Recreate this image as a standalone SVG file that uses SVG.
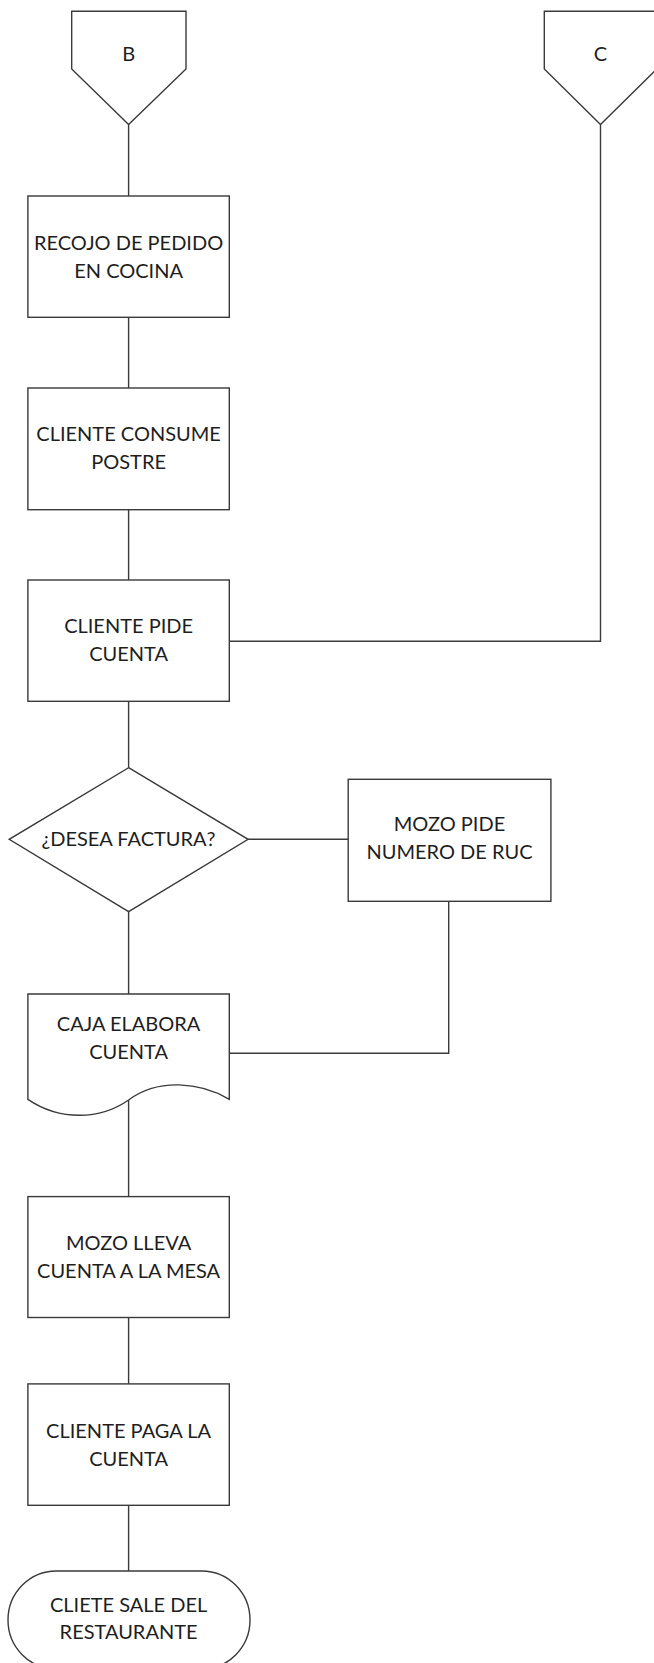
<svg xmlns="http://www.w3.org/2000/svg" width="654" height="1663" viewBox="0 0 654 1663">
  <style>
    .shape { fill: #ffffff; stroke: #3a3a3a; stroke-width: 1.4; }
    .link { fill: none; stroke: #3a3a3a; stroke-width: 1.4; }
    .label { font-family: Lato, "Liberation Sans", sans-serif; font-size: 20px; fill: #1e1e1e; text-anchor: middle; }
  </style>
  <rect x="0" y="0" width="654" height="1663" fill="#ffffff"/>

  <!-- connectors -->
  <g id="connectors">
    <path class="link" d="M128.6,124.5 V196"/>
    <path class="link" d="M128.6,317.3 V388"/>
    <path class="link" d="M128.6,509.7 V580"/>
    <path class="link" d="M229.3,641.3 H600.5 V124.5"/>
    <path class="link" d="M128.6,701.3 V767.7"/>
    <path class="link" d="M248.1,839.3 H348.2"/>
    <path class="link" d="M128.6,911.7 V994"/>
    <path class="link" d="M448.7,901.3 V1053.3 H229.3"/>
    <path class="link" d="M128.6,1100 V1196.6"/>
    <path class="link" d="M128.6,1317.5 V1383.9"/>
    <path class="link" d="M128.6,1505.3 V1571"/>
  </g>

  <!-- off-page connector B -->
  <g id="connector-b">
    <path class="shape" d="M71.7,11.3 H186 V69 L128.6,124.5 L71.7,69 Z"/>
    <text class="label" x="128.6" y="60.5">B</text>
  </g>

  <!-- off-page connector C -->
  <g id="connector-c">
    <path class="shape" d="M544.3,11.3 H656.7 V69 L600.5,124.5 L544.3,69 Z"/>
    <text class="label" x="600.5" y="60.5">C</text>
  </g>

  <g id="recojo-pedido">
    <rect class="shape" x="27.9" y="196" width="201.4" height="121.3"/>
    <text class="label" x="128.6" y="250">RECOJO DE PEDIDO</text>
    <text class="label" x="128.6" y="277.7">EN COCINA</text>
  </g>

  <g id="consume-postre">
    <rect class="shape" x="27.9" y="388" width="201.4" height="121.7"/>
    <text class="label" x="128.6" y="441">CLIENTE CONSUME</text>
    <text class="label" x="128.6" y="469.3">POSTRE</text>
  </g>

  <g id="pide-cuenta">
    <rect class="shape" x="27.9" y="580" width="201.4" height="121.3"/>
    <text class="label" x="128.6" y="633">CLIENTE PIDE</text>
    <text class="label" x="128.6" y="661.3">CUENTA</text>
  </g>

  <g id="desea-factura">
    <path class="shape" d="M128.6,767.7 L248.1,839.3 L128.6,911.7 L9.2,839.3 Z"/>
    <text class="label" x="128.6" y="846">¿DESEA FACTURA?</text>
  </g>

  <g id="pide-ruc">
    <rect class="shape" x="348.2" y="779.3" width="202.7" height="122"/>
    <text class="label" x="449.5" y="831">MOZO PIDE</text>
    <text class="label" x="449.5" y="859.3">NUMERO DE RUC</text>
  </g>

  <!-- document shape -->
  <g id="caja-elabora">
    <path class="shape" d="M27.9,994 H229.3 V1099.3 C200,1082 158,1078 128.6,1100 C100,1120 60,1121 27.9,1099.3 Z"/>
    <text class="label" x="128.6" y="1031">CAJA ELABORA</text>
    <text class="label" x="128.6" y="1059">CUENTA</text>
  </g>

  <g id="lleva-cuenta">
    <rect class="shape" x="27.9" y="1196.6" width="201.4" height="120.9"/>
    <text class="label" x="128.6" y="1250">MOZO LLEVA</text>
    <text class="label" x="128.6" y="1278">CUENTA A LA MESA</text>
  </g>

  <g id="paga-cuenta">
    <rect class="shape" x="27.9" y="1383.9" width="201.4" height="121.4"/>
    <text class="label" x="128.6" y="1437.6">CLIENTE PAGA LA</text>
    <text class="label" x="128.6" y="1465.8">CUENTA</text>
  </g>

  <!-- terminator -->
  <g id="sale-restaurante">
    <path class="shape" d="M56.3,1571 H201.7 A48.3,49 0 0 1 201.7,1669 H56.3 A48.3,49 0 0 1 56.3,1571 Z"/>
    <text class="label" x="128.6" y="1611.7">CLIETE SALE DEL</text>
    <text class="label" x="128.6" y="1639.3">RESTAURANTE</text>
  </g>
</svg>
